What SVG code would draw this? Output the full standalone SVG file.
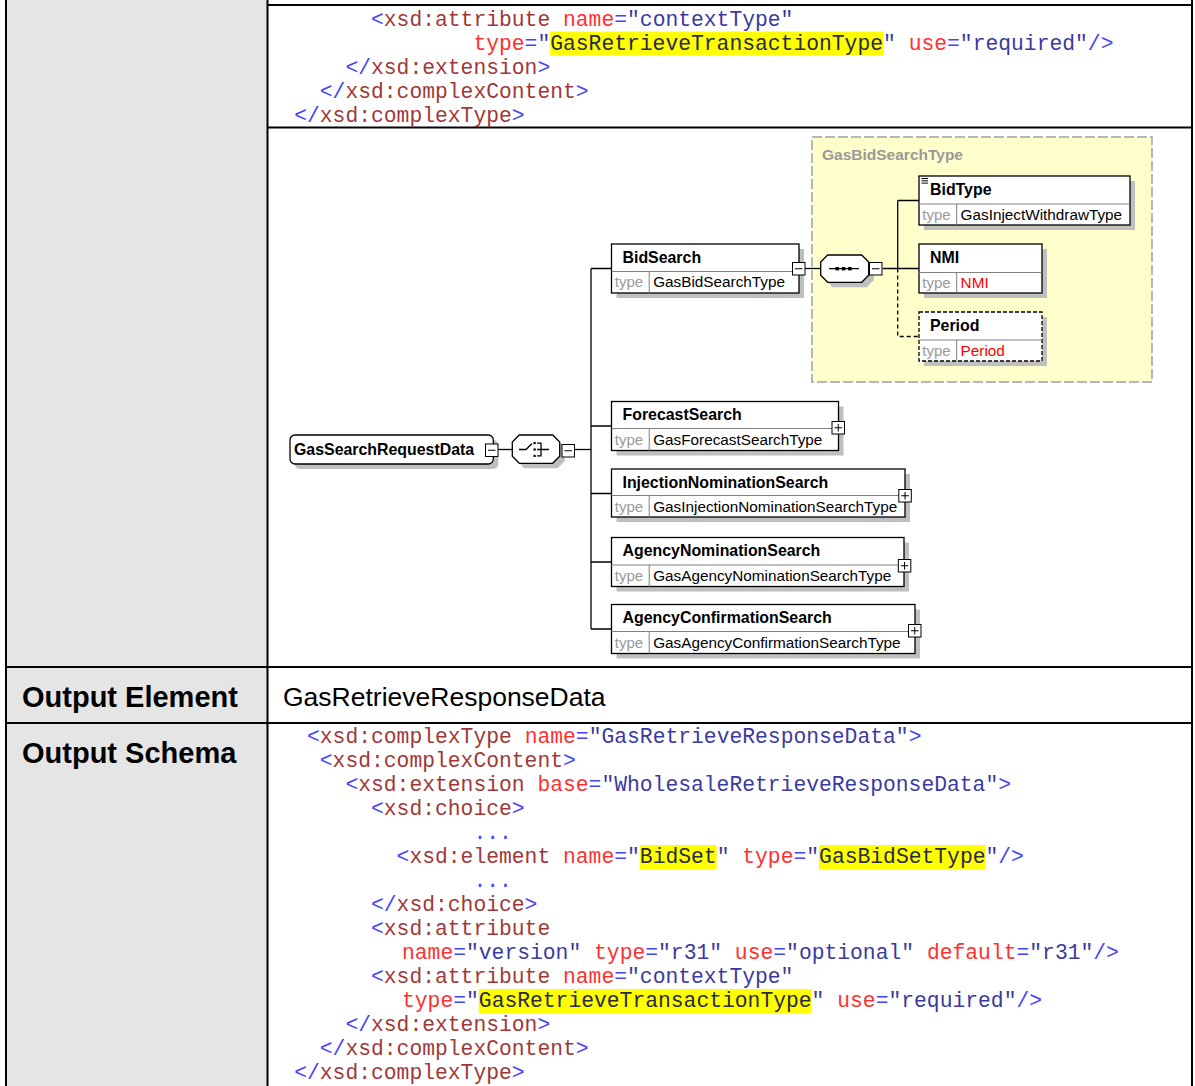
<svg xmlns="http://www.w3.org/2000/svg" width="1195" height="1086" viewBox="0 0 1195 1086">
<style>
.code{font-family:"Liberation Mono","Courier New",monospace;font-size:21.33px}
.p{fill:#4444ff}
.e{fill:#a03838}
.a{fill:#ff3030}
.v{fill:#3a3aa0}
.h{fill:#2a2a4a}
.hl{fill:#ffff00}
.grid{stroke:#000;stroke-width:2;fill:none}
.lbl{font-family:"Liberation Sans",Arial,sans-serif;font-weight:bold;font-size:29px;fill:#000}
.val{font-family:"Liberation Sans",Arial,sans-serif;font-size:26.5px;fill:#000}
.shadow{fill:#bfbfbf}
.box{fill:#fff;stroke:#000;stroke-width:1.3}
.dbox{fill:#fff;stroke:#000;stroke-width:1.3;stroke-dasharray:4,2}
.sep{stroke:#808080;stroke-width:1}
.nm{font-family:"Liberation Sans",Arial,sans-serif;font-weight:bold;font-size:15.9px;fill:#000}
.ty{font-family:"Liberation Sans",Arial,sans-serif;font-size:15px;fill:#9a9a9a}
.tv{font-family:"Liberation Sans",Arial,sans-serif;font-size:15.3px;fill:#000}
.tr{fill:#ff0000}
.conn{stroke:#000;stroke-width:1.3;fill:none}
.dash{stroke-dasharray:4,3}
.pm{fill:#fff;stroke:#000;stroke-width:1}
.pml{stroke:#000;stroke-width:1;fill:none}
.ico{stroke:#000;stroke-width:1.3;fill:none}
</style>

<!-- table -->
<g id="table">
  <rect x="7" y="0" width="260" height="1086" fill="#e5e5e5"/>
  <line class="grid" x1="6" y1="0" x2="6" y2="1086"/>
  <line class="grid" x1="267.5" y1="0" x2="267.5" y2="1086"/>
  <line class="grid" x1="1192" y1="0" x2="1192" y2="1086"/>
  <line class="grid" x1="267" y1="5" x2="1193" y2="5"/>
  <line class="grid" x1="267" y1="127.5" x2="1193" y2="127.5"/>
  <line class="grid" x1="5" y1="667" x2="1193" y2="667"/>
  <line class="grid" x1="5" y1="723" x2="1193" y2="723"/>
  <text class="lbl" x="22" y="707">Output Element</text>
  <text class="lbl" x="22" y="763">Output Schema</text>
  <text class="val" x="283" y="706">GasRetrieveResponseData</text>
</g>

<!-- top code -->
<g id="code-top">
  <rect class="hl" x="550.2" y="31.5" width="332.8" height="24"/>
  <text class="code" x="371" y="25.5" xml:space="preserve"><tspan class="p">&lt;</tspan><tspan class="e">xsd:attribute</tspan> <tspan class="a">name</tspan><tspan class="p">=</tspan><tspan class="v">"contextType"</tspan></text>
  <text class="code" x="473.4" y="49.5" xml:space="preserve"><tspan class="a">type</tspan><tspan class="p">=</tspan><tspan class="v">"</tspan><tspan class="h">GasRetrieveTransactionType</tspan><tspan class="v">"</tspan> <tspan class="a">use</tspan><tspan class="p">=</tspan><tspan class="v">"required"</tspan><tspan class="p">/&gt;</tspan></text>
  <text class="code" x="345.4" y="73.5"><tspan class="p">&lt;/</tspan><tspan class="e">xsd:extension</tspan><tspan class="p">&gt;</tspan></text>
  <text class="code" x="319.8" y="97.5"><tspan class="p">&lt;/</tspan><tspan class="e">xsd:complexContent</tspan><tspan class="p">&gt;</tspan></text>
  <text class="code" x="294.2" y="121.5"><tspan class="p">&lt;/</tspan><tspan class="e">xsd:complexType</tspan><tspan class="p">&gt;</tspan></text>
</g>

<!-- output schema code -->
<g id="code-output">
  <rect class="hl" x="639.8" y="845" width="76.8" height="24.5"/>
  <rect class="hl" x="819" y="845" width="166.4" height="24.5"/>
  <rect class="hl" x="478.8" y="989" width="332.8" height="24.5"/>
  <text class="code" x="307" y="743" xml:space="preserve"><tspan class="p">&lt;</tspan><tspan class="e">xsd:complexType</tspan> <tspan class="a">name</tspan><tspan class="p">=</tspan><tspan class="v">"GasRetrieveResponseData"</tspan><tspan class="p">&gt;</tspan></text>
  <text class="code" x="319.8" y="767"><tspan class="p">&lt;</tspan><tspan class="e">xsd:complexContent</tspan><tspan class="p">&gt;</tspan></text>
  <text class="code" x="345.4" y="791" xml:space="preserve"><tspan class="p">&lt;</tspan><tspan class="e">xsd:extension</tspan> <tspan class="a">base</tspan><tspan class="p">=</tspan><tspan class="v">"WholesaleRetrieveResponseData"</tspan><tspan class="p">&gt;</tspan></text>
  <text class="code" x="371" y="815"><tspan class="p">&lt;</tspan><tspan class="e">xsd:choice</tspan><tspan class="p">&gt;</tspan></text>
  <text class="code p" x="473.4" y="839">...</text>
  <text class="code" x="396.6" y="863" xml:space="preserve"><tspan class="p">&lt;</tspan><tspan class="e">xsd:element</tspan> <tspan class="a">name</tspan><tspan class="p">=</tspan><tspan class="v">"</tspan><tspan class="h">BidSet</tspan><tspan class="v">"</tspan> <tspan class="a">type</tspan><tspan class="p">=</tspan><tspan class="v">"</tspan><tspan class="h">GasBidSetType</tspan><tspan class="v">"</tspan><tspan class="p">/&gt;</tspan></text>
  <text class="code p" x="473.4" y="887">...</text>
  <text class="code" x="371" y="911"><tspan class="p">&lt;/</tspan><tspan class="e">xsd:choice</tspan><tspan class="p">&gt;</tspan></text>
  <text class="code" x="371" y="935"><tspan class="p">&lt;</tspan><tspan class="e">xsd:attribute</tspan></text>
  <text class="code" x="402" y="959" xml:space="preserve"><tspan class="a">name</tspan><tspan class="p">=</tspan><tspan class="v">"version"</tspan> <tspan class="a">type</tspan><tspan class="p">=</tspan><tspan class="v">"r31"</tspan> <tspan class="a">use</tspan><tspan class="p">=</tspan><tspan class="v">"optional"</tspan> <tspan class="a">default</tspan><tspan class="p">=</tspan><tspan class="v">"r31"</tspan><tspan class="p">/&gt;</tspan></text>
  <text class="code" x="371" y="983" xml:space="preserve"><tspan class="p">&lt;</tspan><tspan class="e">xsd:attribute</tspan> <tspan class="a">name</tspan><tspan class="p">=</tspan><tspan class="v">"contextType"</tspan></text>
  <text class="code" x="402" y="1007" xml:space="preserve"><tspan class="a">type</tspan><tspan class="p">=</tspan><tspan class="v">"</tspan><tspan class="h">GasRetrieveTransactionType</tspan><tspan class="v">"</tspan> <tspan class="a">use</tspan><tspan class="p">=</tspan><tspan class="v">"required"</tspan><tspan class="p">/&gt;</tspan></text>
  <text class="code" x="345.4" y="1031"><tspan class="p">&lt;/</tspan><tspan class="e">xsd:extension</tspan><tspan class="p">&gt;</tspan></text>
  <text class="code" x="319.8" y="1055"><tspan class="p">&lt;/</tspan><tspan class="e">xsd:complexContent</tspan><tspan class="p">&gt;</tspan></text>
  <text class="code" x="294.2" y="1079"><tspan class="p">&lt;/</tspan><tspan class="e">xsd:complexType</tspan><tspan class="p">&gt;</tspan></text>
</g>

<!-- complex type container -->
<g id="GasBidSearchType">
  <rect x="812" y="137" width="340" height="245" fill="#ffffcc" stroke="#a0a0a0" stroke-width="1.5" stroke-dasharray="10,3"/>
  <text x="822" y="160" font-family="Liberation Sans, Arial, sans-serif" font-weight="bold" font-size="15.5px" fill="#999999">GasBidSearchType</text>
</g>

<!-- connectors -->
<g id="connectors">
  <path class="conn" d="M498 449.5 H512.3"/>
  <path class="conn" d="M575 449.5 H591"/>
  <path class="conn" d="M591 268.5 V629"/>
  <path class="conn" d="M591 268.5 H611.5 M591 426 H611.5 M591 493.5 H611.5 M591 562 H611.5 M591 629 H611.5"/>
  <path class="conn" d="M805 268.5 H820.7"/>
  <path class="conn" d="M882.7 268.5 H919"/>
  <path class="conn" d="M897.7 200.5 V268.5 M897.7 200.5 H919"/>
  <path class="conn dash" d="M897.7 268.5 V336.5 H919"/>
</g>

<!-- root element -->
<g id="GasSearchRequestData">
  <rect class="shadow" x="295" y="440" width="203.3" height="29" rx="5"/>
  <rect class="box" x="290" y="435" width="203.3" height="29" rx="5"/>
  <text class="nm" x="294" y="454.5">GasSearchRequestData</text>
  <rect class="pm" x="485.5" y="444" width="12.5" height="12.5"/>
  <path class="pml" d="M488 450.25 H495.5"/>
</g>

<!-- choice compositor -->
<g id="choice">
  <path class="shadow" d="M524.3 440 H557.7 L564.7 447 V461.3 L557.7 468.3 H524.3 L517.3 461.3 V447 Z"/>
  <path class="box" d="M519.3 435 H552.7 L559.7 442 V456.3 L552.7 463.3 H519.3 L512.3 456.3 V442 Z"/>
  <path class="ico" d="M519 449.5 H526 L532 443.5"/>
  <rect x="533.5" y="442" width="2.2" height="2.2" fill="#000"/>
  <rect x="533.5" y="448.4" width="2.2" height="2.2" fill="#000"/>
  <rect x="533.5" y="454.8" width="2.2" height="2.2" fill="#000"/>
  <path class="ico" d="M537 443.2 H541 V455.8 H537 M537 449.5 H549"/>
  <rect class="pm" x="562" y="444.5" width="12.5" height="12.5"/>
  <path class="pml" d="M564.5 450.75 H572"/>
</g>

<!-- children of choice -->
<g id="BidSearch">
  <rect class="shadow" x="616.5" y="249" width="187.5" height="49"/>
  <rect class="box" x="611.5" y="244" width="187.5" height="49"/>
  <line class="sep" x1="611.5" y1="271.5" x2="799" y2="271.5"/>
  <line class="sep" x1="649.2" y1="271.5" x2="649.2" y2="293"/>
  <text class="nm" x="622.5" y="262.5">BidSearch</text>
  <text class="ty" x="614.8" y="287">type</text>
  <text class="tv" x="653.2" y="287">GasBidSearchType</text>
  <rect class="pm" x="792.5" y="262.5" width="12.5" height="12.5"/>
  <path class="pml" d="M795 268.75 H802.5"/>
</g>

<g id="ForecastSearch">
  <rect class="shadow" x="616.5" y="406.5" width="227" height="49"/>
  <rect class="box" x="611.5" y="401.5" width="227" height="49"/>
  <line class="sep" x1="611.5" y1="428.5" x2="838.5" y2="428.5"/>
  <line class="sep" x1="649.2" y1="428.5" x2="649.2" y2="450.5"/>
  <text class="nm" x="622.5" y="420">ForecastSearch</text>
  <text class="ty" x="614.8" y="444.5">type</text>
  <text class="tv" x="653.2" y="444.5">GasForecastSearchType</text>
  <rect class="pm" x="832" y="421.5" width="12.5" height="12.5"/>
  <path class="pml" d="M834.5 427.75 H842 M838.25 424 V431.5"/>
</g>

<g id="InjectionNominationSearch">
  <rect class="shadow" x="616.5" y="474" width="293.5" height="48"/>
  <rect class="box" x="611.5" y="469" width="293.5" height="48"/>
  <line class="sep" x1="611.5" y1="495.5" x2="905" y2="495.5"/>
  <line class="sep" x1="649.2" y1="495.5" x2="649.2" y2="517"/>
  <text class="nm" x="622.5" y="487.5">InjectionNominationSearch</text>
  <text class="ty" x="614.8" y="512">type</text>
  <text class="tv" x="653.2" y="512">GasInjectionNominationSearchType</text>
  <rect class="pm" x="898.8" y="489.5" width="12.5" height="12.5"/>
  <path class="pml" d="M901.3 495.75 H908.8 M905.05 492 V499.5"/>
</g>

<g id="AgencyNominationSearch">
  <rect class="shadow" x="616.5" y="542.5" width="292.5" height="49"/>
  <rect class="box" x="611.5" y="537.5" width="292.5" height="49"/>
  <line class="sep" x1="611.5" y1="565" x2="904" y2="565"/>
  <line class="sep" x1="649.2" y1="565" x2="649.2" y2="586.5"/>
  <text class="nm" x="622.5" y="556">AgencyNominationSearch</text>
  <text class="ty" x="614.8" y="580.5">type</text>
  <text class="tv" x="653.2" y="580.5">GasAgencyNominationSearchType</text>
  <rect class="pm" x="898.3" y="559.5" width="12.5" height="12.5"/>
  <path class="pml" d="M900.8 565.75 H908.3 M904.55 562 V569.5"/>
</g>

<g id="AgencyConfirmationSearch">
  <rect class="shadow" x="616.5" y="609.5" width="303.5" height="49"/>
  <rect class="box" x="611.5" y="604.5" width="303.5" height="49"/>
  <line class="sep" x1="611.5" y1="631.5" x2="915" y2="631.5"/>
  <line class="sep" x1="649.2" y1="631.5" x2="649.2" y2="653.5"/>
  <text class="nm" x="622.5" y="623">AgencyConfirmationSearch</text>
  <text class="ty" x="614.8" y="647.5">type</text>
  <text class="tv" x="653.2" y="647.5">GasAgencyConfirmationSearchType</text>
  <rect class="pm" x="908.5" y="624.5" width="12.5" height="12.5"/>
  <path class="pml" d="M911 630.75 H918.5 M914.75 627 V634.5"/>
</g>

<!-- sequence compositor -->
<g id="sequence">
  <path class="shadow" d="M832.7 260 H866.7 L873.7 267 V280.3 L866.7 287.3 H832.7 L825.7 280.3 V267 Z"/>
  <path class="box" d="M827.7 255 H861.7 L868.7 262 V275.3 L861.7 282.3 H827.7 L820.7 275.3 V262 Z"/>
  <path class="ico" d="M829 268.6 H859"/>
  <rect x="835.5" y="267" width="3.5" height="3.4" fill="#000"/>
  <rect x="841.8" y="267" width="3.5" height="3.4" fill="#000"/>
  <rect x="848.1" y="267" width="3.5" height="3.4" fill="#000"/>
  <rect class="pm" x="869.5" y="262.5" width="12.5" height="12.5"/>
  <path class="pml" d="M872 268.75 H879.5"/>
</g>

<!-- sequence children -->
<g id="BidType">
  <rect class="shadow" x="924" y="181" width="211" height="49"/>
  <rect class="box" x="919" y="176" width="211" height="49"/>
  <line class="sep" x1="919" y1="204" x2="1130" y2="204"/>
  <line class="sep" x1="956.7" y1="204" x2="956.7" y2="225"/>
  <path class="pml" d="M921.5 178.5 H928 M921.5 180.8 H928 M921.5 183.1 H928"/>
  <text class="nm" x="930" y="195">BidType</text>
  <text class="ty" x="922.3" y="220">type</text>
  <text class="tv" x="960.6" y="220">GasInjectWithdrawType</text>
</g>

<g id="NMI">
  <rect class="shadow" x="924" y="249" width="123" height="49"/>
  <rect class="box" x="919" y="244" width="123" height="49"/>
  <line class="sep" x1="919" y1="272.5" x2="1042" y2="272.5"/>
  <line class="sep" x1="956.7" y1="272.5" x2="956.7" y2="293"/>
  <text class="nm" x="930" y="262.5">NMI</text>
  <text class="ty" x="922.3" y="288">type</text>
  <text class="tv tr" x="960.6" y="288">NMI</text>
</g>

<g id="Period">
  <rect class="shadow" x="924" y="317" width="123" height="49"/>
  <rect class="dbox" x="919" y="312" width="123" height="49"/>
  <line class="sep" x1="919" y1="340" x2="1042" y2="340"/>
  <line class="sep" x1="956.7" y1="340" x2="956.7" y2="361"/>
  <text class="nm" x="930" y="330.5">Period</text>
  <text class="ty" x="922.3" y="356">type</text>
  <text class="tv tr" x="960.6" y="356">Period</text>
</g>
</svg>
